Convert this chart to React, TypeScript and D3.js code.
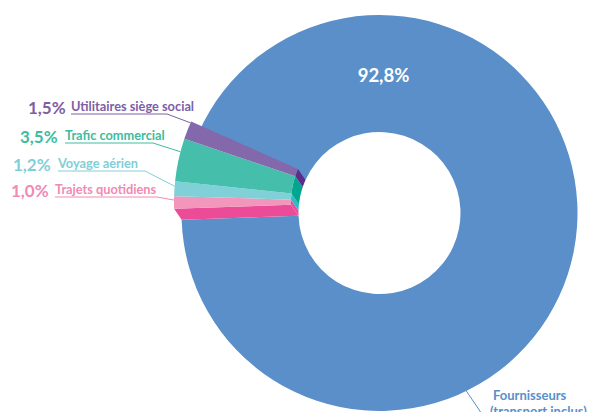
import { useEffect, useRef } from 'react'
import * as d3 from 'd3'

// pie data, clockwise from the blue slice
const categories = [
  'Fournisseurs',
  'Trajets quotidiens',
  'Voyage aérien',
  'Trafic commercial',
  'Utilitaires siège social',
]
const values = [92.8, 1.0, 1.2, 3.5, 1.5]
const valueLabels = ['92,8%', '1,0%', '1,2%', '3,5%', '1,5%']

const topColors = ['#5a8fc9', '#f296bb', '#80d0d7', '#45bfab', '#8468ac']
const sideColors = ['#5a8fc9', '#ec4b97', '#2cbcc8', '#00a78e', '#5b2e8c']
const textColors = ['#5a8fc9', '#f08bb3', '#7fcfd8', '#3dbda0', '#7d5ea7']

const W = 592
const H = 412

export default function App() {
  const svgRef = useRef<SVGSVGElement>(null)

  useEffect(() => {
    if (!svgRef.current) return
    const svg = d3.select(svgRef.current)
    svg.selectAll('*').remove()

    const cx = 379.5, cy = 213
    const rOuter = 198, rInner = 81
    // raised slices sit up-left of the donut
    const lift = { x: -7.5, y: -11 }
    const tx = cx + lift.x, ty = cy + lift.y

    const rad = (deg: number) => (deg * Math.PI) / 180
    const start = rad(-66)
    const pie = d3.pie<number>().sort(null).value(d => d)
      .startAngle(start).endAngle(start + Math.PI * 2)
    const arcs = pie(values)

    const arc = d3.arc<d3.PieArcDatum<number>>()
      .innerRadius(rInner).outerRadius(rOuter)

    const polar = (x: number, y: number, r: number, a: number): [number, number] =>
      [x + r * Math.sin(a), y - r * Math.cos(a)]

    const line = d3.line()

    // main donut slice
    svg.append('path')
      .attr('transform', `translate(${cx},${cy})`)
      .attr('d', arc(arcs[0]))
      .attr('fill', topColors[0])

    const small = arcs.slice(1)

    // side walls: inner arcs
    small.forEach((a, i) => {
      const idx = i + 1
      const pts: [number, number][] = []
      const steps = 16
      for (let s = 0; s <= steps; s++) {
        const ang = a.startAngle + (a.endAngle - a.startAngle) * s / steps
        pts.push(polar(tx, ty, rInner, ang))
      }
      for (let s = steps; s >= 0; s--) {
        const ang = a.startAngle + (a.endAngle - a.startAngle) * s / steps
        pts.push(polar(cx, cy, rInner, ang))
      }
      svg.append('path')
        .attr('d', line(pts) + 'Z')
        .attr('fill', sideColors[idx])
    })

    // side wall along the bottom edge of the lowest slice
    const a0 = small[0].startAngle
    const edge: [number, number][] = [
      polar(tx, ty, rOuter, a0),
      polar(tx, ty, rInner, a0),
      polar(cx, cy, rInner, a0),
      polar(cx, cy, rOuter, a0),
    ]
    svg.append('path')
      .attr('d', line(edge) + 'Z')
      .attr('fill', sideColors[1])

    // top faces
    small.forEach((a, i) => {
      svg.append('path')
        .attr('transform', `translate(${tx},${ty})`)
        .attr('d', arc(a))
        .attr('fill', topColors[i + 1])
    })

    const font = 'Lato, "Open Sans", sans-serif'

    // big value
    svg.append('text')
      .attr('x', cx + 4).attr('y', 82)
      .attr('text-anchor', 'middle')
      .attr('fill', '#fff')
      .attr('font-family', font).attr('font-weight', 700)
      .attr('font-size', 18.5)
      .text(valueLabels[0])

    // labels for the small slices: [pctX, nameX, baseline, elbowX, fraction along slice]
    const layout: Record<number, [number, number, number, number, number]> = {
      4: [28, 71, 114, 167, 0.92],
      3: [20, 65, 143, 153, 0.69],
      2: [13, 58, 171, 145, 0.67],
      1: [11, 55, 197, 157, 0.69],
    }
    ;[4, 3, 2, 1].forEach(idx => {
      const [px, nx, by, ex, f] = layout[idx]
      const a = arcs[idx]
      const end = polar(tx, ty, rOuter, a.startAngle + (a.endAngle - a.startAngle) * f)
      svg.append('path')
        .attr('d', line([[nx, by], [ex, by], end]))
        .attr('fill', 'none')
        .attr('stroke', textColors[idx])
        .attr('stroke-width', 1)
      svg.append('text')
        .attr('x', px).attr('y', by)
        .attr('fill', textColors[idx])
        .attr('font-family', font).attr('font-weight', 700)
        .attr('font-size', 17)
        .text(valueLabels[idx])
      svg.append('text')
        .attr('x', nx).attr('y', by - 3)
        .attr('fill', textColors[idx])
        .attr('font-family', font).attr('font-weight', 700)
        .attr('font-size', 12.8)
        .text(categories[idx])
    })

    // Fournisseurs label
    const pBlue = polar(cx, cy, rOuter, rad(154))
    svg.append('path')
      .attr('d', line([pBlue, [486, 420], [600, 420]]))
      .attr('fill', 'none')
      .attr('stroke', textColors[0])
    const t = svg.append('text')
      .attr('fill', textColors[0])
      .attr('font-family', font).attr('font-weight', 700)
      .attr('font-size', 13)
    t.append('tspan').attr('x', 493).attr('y', 400).text(categories[0])
    t.append('tspan').attr('x', 490).attr('y', 416).text('(transport inclus)')
  }, [])

  return (
    <svg
      ref={svgRef}
      width={W}
      height={H}
      style={{ position: 'absolute', left: 0, top: 0, background: '#fff' }}
    />
  )
}
